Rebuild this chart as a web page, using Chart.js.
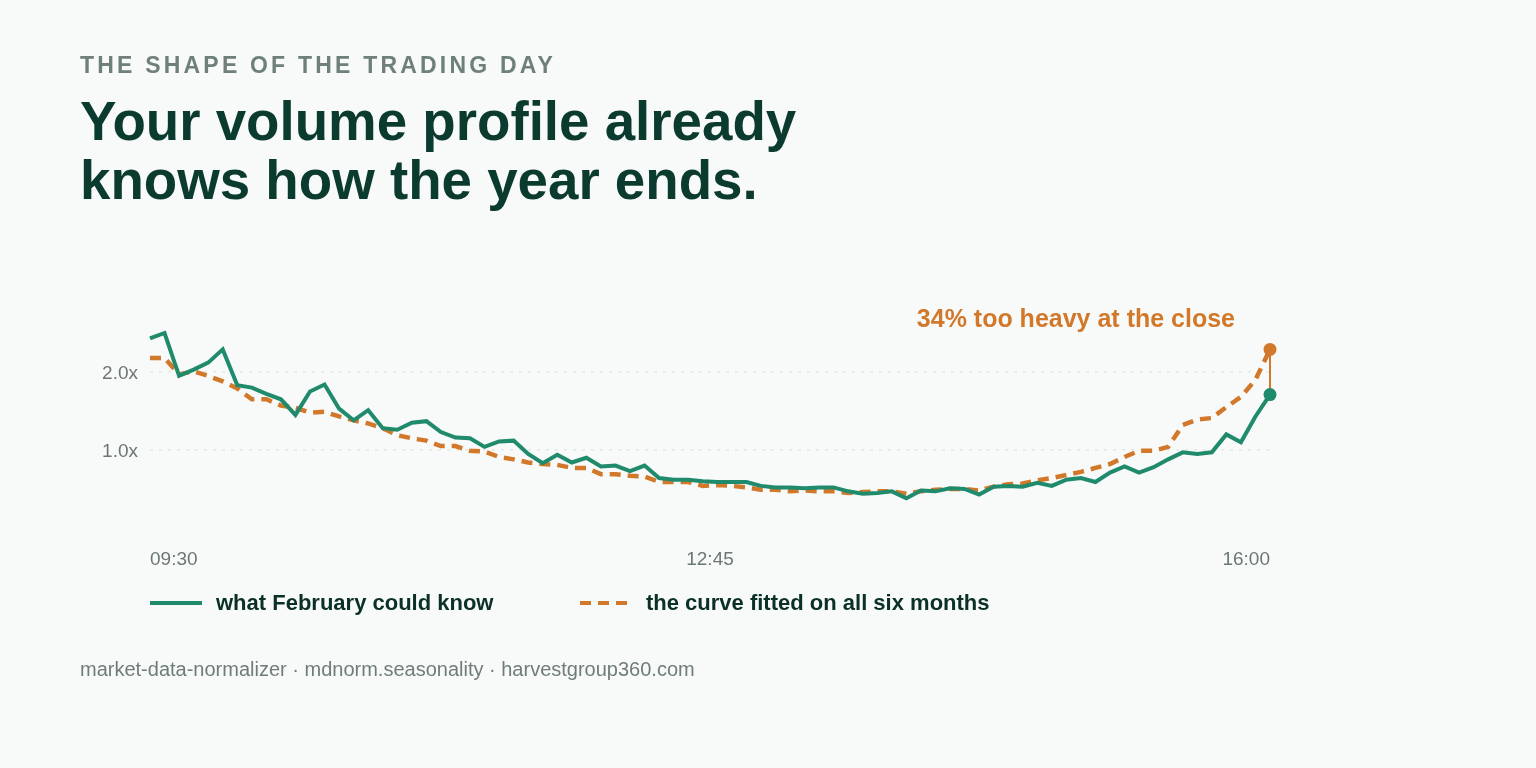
<!DOCTYPE html>
<html>
<head>
<meta charset="utf-8">
<script src="https://cdn.jsdelivr.net/npm/chart.js@4.4.1/dist/chart.umd.min.js"></script>
<style>
  html, body { margin: 0; padding: 0; background: #f8faf9; }
  body { width: 1536px; height: 768px; position: relative; overflow: hidden;
         font-family: "Liberation Sans", Arial, sans-serif; }
  #grafik { position: absolute; left: 0; top: 0; }
  .kicker { position: absolute; left: 80px; top: 54px; font-size: 23px; line-height: 23px;
            font-weight: 700; letter-spacing: 3.2px; color: #6e8079; }
  .title { position: absolute; left: 80px; top: 92px; margin: 0; font-size: 54.7px; line-height: 58.5px;
           font-weight: 700; color: #0b3a2e; }
  .legend { position: absolute; top: 591px; left: 150px; height: 24px; font-size: 22px; font-weight: 700;
            color: #0b3028; }
  .legend span { position: absolute; top: 0; line-height: 24px; white-space: nowrap; }
  .swatch { position: absolute; top: 10px; height: 4px; width: 52px; }
  .foot { position: absolute; left: 80px; top: 657px; font-size: 20px; line-height: 24px; color: #6f7d78; }
</style>
</head>
<body>
<canvas id="grafik" width="1536" height="768"></canvas>
<div class="kicker">THE SHAPE OF THE TRADING DAY</div>
<h1 class="title">Your volume profile already<br>knows how the year ends.</h1>
<div class="legend">
  <div class="swatch" style="left:0; background:#1f8a6c;"></div>
  <span style="left:66px;">what February could know</span>
  <div class="swatch" style="left:430px; width:48px; background:repeating-linear-gradient(90deg,#d2782a 0 11px,transparent 11px 18px);"></div>
  <span style="left:496px;">the curve fitted on all six months</span>
</div>
<div class="foot">market-data-normalizer · mdnorm.seasonality · harvestgroup360.com</div>
<script>
// 5-minute buckets, relative volume vs. day average
const tickLabels = ["09:30", "12:45", "16:00"];
const tickPositions = [0, 38.5, 77];
const yTicks = [1, 2];

const februaryVolume = [
  2.43, 2.50, 1.95, 2.03, 2.12, 2.29, 1.83, 1.80, 1.72, 1.65,
  1.45, 1.75, 1.84, 1.53, 1.38, 1.51, 1.28, 1.26, 1.35, 1.37,
  1.23, 1.16, 1.15, 1.04, 1.11, 1.12, 0.95, 0.83, 0.94, 0.84,
  0.90, 0.79, 0.80, 0.73, 0.80, 0.64, 0.62, 0.62, 0.60, 0.59,
  0.59, 0.59, 0.54, 0.52, 0.52, 0.51, 0.52, 0.52, 0.47, 0.44,
  0.45, 0.47, 0.38, 0.48, 0.47, 0.51, 0.50, 0.43, 0.53, 0.54,
  0.53, 0.58, 0.54, 0.62, 0.64, 0.59, 0.71, 0.79, 0.71, 0.78,
  0.88, 0.97, 0.95, 0.97, 1.20, 1.10, 1.43, 1.71,
];

const fittedVolume = [
  2.18, 2.18, 1.97, 2.01, 1.95, 1.88, 1.79, 1.65, 1.65, 1.57,
  1.54, 1.48, 1.49, 1.43, 1.38, 1.34, 1.28, 1.19, 1.15, 1.12,
  1.05, 1.05, 0.99, 0.98, 0.91, 0.88, 0.84, 0.82, 0.81, 0.77,
  0.77, 0.69, 0.69, 0.67, 0.66, 0.59, 0.59, 0.59, 0.54, 0.55,
  0.54, 0.52, 0.49, 0.49, 0.47, 0.48, 0.47, 0.47, 0.45, 0.46,
  0.47, 0.47, 0.44, 0.47, 0.49, 0.50, 0.50, 0.48, 0.53, 0.56,
  0.57, 0.61, 0.64, 0.68, 0.72, 0.77, 0.82, 0.91, 0.99, 0.99,
  1.04, 1.32, 1.39, 1.41, 1.55, 1.68, 1.90, 2.29,
];

const GREEN = "#1f8a6c";
const ORANGE = "#d2782a";
const last = februaryVolume.length - 1;

const toPoints = (arr) => arr.map((v, i) => ({ x: i, y: v }));
const endDot = (ctx) => (ctx.dataIndex === last ? 6.5 : 0);

// gap between the two curves at the close + its label
const closeGap = {
  id: "closeGap",
  beforeDatasetsDraw(chart) {
    const g = chart.getDatasetMeta(0).data[last];
    const o = chart.getDatasetMeta(1).data[last];
    const ctx = chart.ctx;
    ctx.save();
    ctx.strokeStyle = ORANGE;
    ctx.lineWidth = 2;
    ctx.beginPath();
    ctx.moveTo(o.x, o.y);
    ctx.lineTo(g.x, g.y);
    ctx.stroke();
    ctx.restore();
  },
  afterDatasetsDraw(chart) {
    const o = chart.getDatasetMeta(1).data[last];
    const ctx = chart.ctx;
    ctx.save();
    ctx.fillStyle = ORANGE;
    ctx.font = "bold 25px 'Liberation Sans', Arial, sans-serif";
    ctx.textAlign = "right";
    ctx.textBaseline = "middle";
    const gap = Math.round((fittedVolume[last] / februaryVolume[last] - 1) * 100);
    ctx.fillText(gap + "% too heavy at the close", o.x - 35, o.y - 29);
    ctx.restore();
  },
};

new Chart(document.querySelector("#grafik"), {
  type: "line",
  data: {
    datasets: [
      {
        label: "what February could know",
        data: toPoints(februaryVolume),
        borderColor: GREEN,
        backgroundColor: GREEN,
        borderWidth: 4,
        pointRadius: endDot,
        pointBorderWidth: 0,
        tension: 0,
        clip: false,
      },
      {
        label: "the curve fitted on all six months",
        data: toPoints(fittedVolume),
        borderColor: ORANGE,
        backgroundColor: ORANGE,
        borderWidth: 4.5,
        borderDash: [11, 7],
        pointRadius: endDot,
        pointBorderWidth: 0,
        tension: 0,
        clip: false,
      },
    ],
  },
  options: {
    responsive: false,
    animation: false,
    events: [],
    layout: { padding: { left: 80, right: 266, top: 325.2, bottom: 190 } },
    plugins: { legend: { display: false }, tooltip: { enabled: false } },
    scales: {
      x: {
        type: "linear",
        min: 0,
        max: last,
        afterFit: (s) => { s.height = 50; },
        afterBuildTicks: (s) => { s.ticks = tickPositions.map((v) => ({ value: v })); },
        grid: { display: false, drawTicks: false },
        border: { display: false },
        ticks: {
          align: "inner",
          padding: 20,
          color: "#6b7772",
          font: { family: "'Liberation Sans', Arial, sans-serif", size: 19 },
          callback: (v) => tickLabels[tickPositions.indexOf(v)],
        },
      },
      y: {
        min: 0,
        max: 2.6,
        afterFit: (s) => { s.width = 70; },
        afterBuildTicks: (s) => { s.ticks = yTicks.map((v) => ({ value: v })); },
        grid: { color: "#e3e7e5", lineWidth: 1.5, drawTicks: false },
        border: { display: false, dash: [3, 6] },
        ticks: {
          padding: 12,
          labelOffset: 2,
          color: "#6b7772",
          font: { family: "'Liberation Sans', Arial, sans-serif", size: 19 },
          callback: (v) => v.toFixed(1) + "x",
        },
      },
    },
  },
  plugins: [closeGap],
});
</script>
</body>
</html>
